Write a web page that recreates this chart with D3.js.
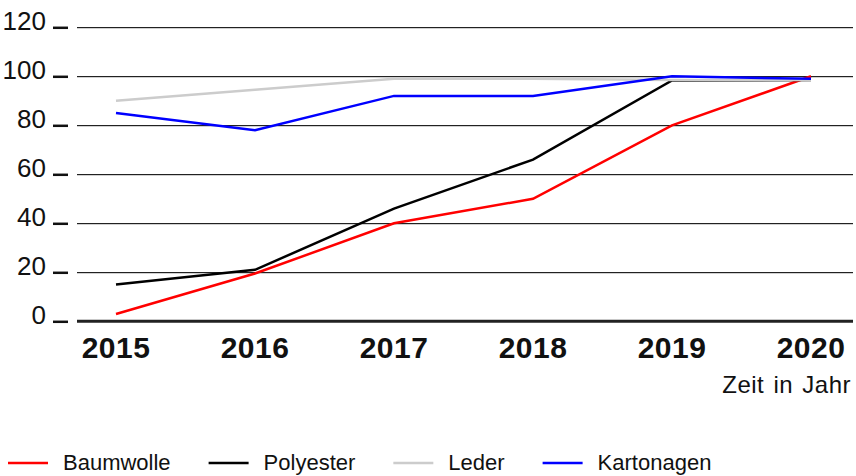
<!DOCTYPE html>
<html>
<head>
<meta charset="utf-8">
<script src="https://cdn.jsdelivr.net/npm/d3@7"></script>
<style>
  body { margin: 0; background: #fff; }
  svg { display: block; }
  text { fill: #111; }
</style>
</head>
<body>
<svg id="chart" width="856" height="476"></svg>
<script>
// data
var years = [2015, 2016, 2017, 2018, 2019, 2020];
var yTicks = [0, 20, 40, 60, 80, 100, 120];

var baumwolle  = [3, 19.5, 40, 50, 80, 100];
var polyester  = [15, 21, 46, 66, 98.3, 98.5];
var leder      = [90, 94.5, 99, 99, 98.5, 98.5];
var kartonagen = [85, 78, 92, 92, 100, 99];

var seriesNames  = ["Baumwolle", "Polyester", "Leder", "Kartonagen"];
var seriesColors = ["#ff0000", "#000000", "#cccccc", "#0000ff"];
var seriesValues = [baumwolle, polyester, leder, kartonagen];

var xTitle = "Zeit in Jahr";

var svg = d3.select("#chart");

var x = d3.scaleLinear().domain([2015, 2020]).range([116, 811]);
var y = d3.scaleLinear().domain([0, 120]).range([321.3, 27.3]);

var gridLeft = 77, gridRight = 853;

// gridlines (dark line with a light shadow underneath)
var grid = svg.append("g");
yTicks.filter(function(d) { return d > 0; }).forEach(function(t) {
  grid.append("line")
    .attr("x1", gridLeft).attr("x2", gridRight)
    .attr("y1", Math.round(y(t)) + 1.5).attr("y2", Math.round(y(t)) + 1.5)
    .attr("stroke", "#d0d0d0").attr("stroke-width", 1);
  grid.append("line")
    .attr("x1", gridLeft).attr("x2", gridRight)
    .attr("y1", Math.round(y(t)) + 0.5).attr("y2", Math.round(y(t)) + 0.5)
    .attr("stroke", "#222").attr("stroke-width", 1);
});

// baseline
svg.append("line")
  .attr("x1", gridLeft).attr("x2", gridRight)
  .attr("y1", y(0)).attr("y2", y(0))
  .attr("stroke", "#222").attr("stroke-width", 3);

// y axis labels and little dashes
var yAx = svg.append("g");
yTicks.forEach(function(t) {
  yAx.append("line")
    .attr("x1", 53).attr("x2", 68)
    .attr("y1", y(t) + 0.5).attr("y2", y(t) + 0.5)
    .attr("stroke", "#111").attr("stroke-width", 2.5);
  yAx.append("text")
    .attr("x", 46).attr("y", y(t) + 3)
    .attr("text-anchor", "end")
    .style("font-family", "'Liberation Sans Narrow', 'Liberation Sans', Arial, sans-serif")
    .style("font-size", "26px")
    .text(t);
});

// x axis labels
svg.append("g").selectAll("text")
  .data(years)
  .enter().append("text")
    .attr("x", function(d) { return x(d); })
    .attr("y", 358)
    .attr("text-anchor", "middle")
    .style("font-family", "'Liberation Sans', Arial, sans-serif")
    .style("font-weight", "bold")
    .style("font-size", "30px")
    .style("letter-spacing", "0.5px")
    .text(function(d) { return d; });

svg.append("text")
  .attr("x", 851).attr("y", 393)
  .attr("text-anchor", "end")
  .style("font-family", "'Liberation Sans', Arial, sans-serif")
  .style("font-size", "24px")
  .style("letter-spacing", "0.5px")
  .style("word-spacing", "2px")
  .text(xTitle);

// lines
var line = d3.line()
  .x(function(d, i) { return x(years[i]); })
  .y(function(d) { return y(d); });

svg.append("g").selectAll("path")
  .data(seriesValues)
  .enter().append("path")
    .attr("d", line)
    .attr("fill", "none")
    .attr("stroke", function(d, i) { return seriesColors[i]; })
    .attr("stroke-width", 2.5)
    .attr("stroke-linejoin", "miter");

// legend
var legend = svg.append("g");
var lx = 8;
seriesNames.forEach(function(name, i) {
  legend.append("line")
    .attr("x1", lx).attr("x2", lx + 40)
    .attr("y1", 463).attr("y2", 463)
    .attr("stroke", seriesColors[i]).attr("stroke-width", 2.5);
  var t = legend.append("text")
    .attr("x", lx + 55).attr("y", 470)
    .style("font-family", "'Liberation Sans', Arial, sans-serif")
    .style("font-size", "22px")
    .text(name);
  lx += 55 + t.node().getComputedTextLength() + 38;
});
</script>
</body>
</html>
